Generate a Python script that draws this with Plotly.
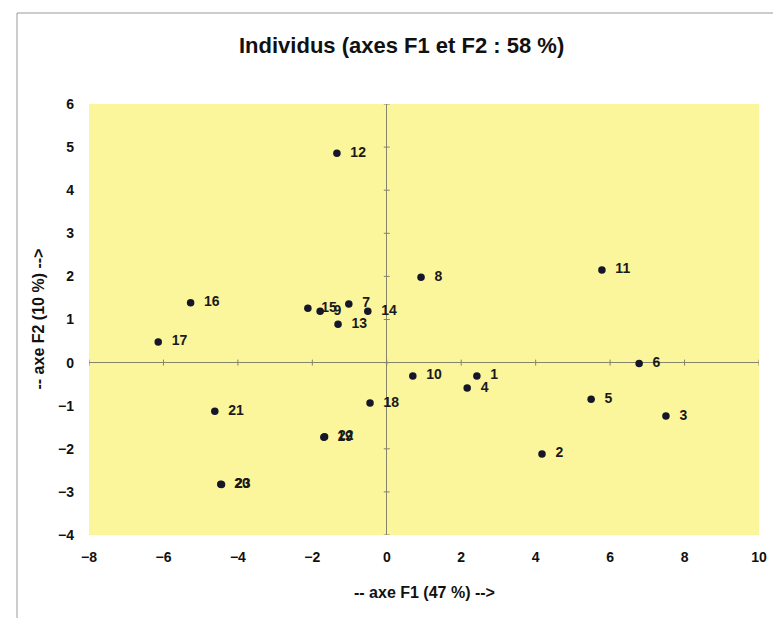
import plotly.graph_objects as go

labels = ["1", "2", "3", "4", "5", "6", "7", "8", "9", "10", "11", "12",
          "13", "14", "15", "16", "17", "18", "19", "20", "21", "22", "23"]
f1 = [2.42, 4.17, 7.50, 2.16, 5.49, 6.78, -1.02, 0.92, -1.79, 0.70, 5.78, -1.34,
      -1.31, -0.51, -2.12, -5.27, -6.14, -0.45, -1.69, -4.46, -4.62, -1.67, -4.44]
f2 = [-0.31, -2.12, -1.24, -0.59, -0.85, -0.02, 1.36, 1.98, 1.19, -0.31, 2.15, 4.86,
      0.89, 1.19, 1.26, 1.39, 0.48, -0.94, -1.73, -2.82, -1.13, -1.72, -2.83]

x_ticks = [-8, -6, -4, -2, 0, 2, 4, 6, 8, 10]
y_ticks = [-4, -3, -2, -1, 0, 1, 2, 3, 4, 5, 6]

title = "Individus (axes F1 et F2 : 58 %)"
x_title = "-- axe F1 (47 %) -->"
y_title = "-- axe F2 (10 %) -->"

PLOT_BG = "#FBF59B"
AXIS_COL = "#85836A"
FONT = "Liberation Sans, Arial, sans-serif"

fig = go.Figure()
fig.add_trace(go.Scatter(
    x=f1, y=f2, mode="markers+text",
    text=["  " + t for t in labels], textposition="middle right",
    textfont=dict(family=FONT, size=14, color="#1a1a1a", weight="bold"),
    marker=dict(size=7.5, color="#15162a"),
    hoverinfo="skip", showlegend=False, cliponaxis=False,
))

shapes = []
for v in y_ticks:
    shapes.append(dict(type="line", xref="x", yref="y", xsizemode="pixel", xanchor=0,
                       x0=-3, x1=3, y0=v, y1=v, line=dict(color=AXIS_COL, width=1), layer="below"))
for v in x_ticks:
    shapes.append(dict(type="line", xref="x", yref="y", ysizemode="pixel", yanchor=0,
                       y0=-3, y1=3, x0=v, x1=v, line=dict(color=AXIS_COL, width=1), layer="below"))
# chart border
shapes.append(dict(type="rect", xref="paper", yref="paper",
                   x0=(17 - 89) / 670, x1=(800 - 89) / 670,
                   y0=-(650 - 535) / 431, y1=1 + (104 - 13) / 431,
                   line=dict(color="#9a9a9a", width=1), fillcolor="rgba(0,0,0,0)", layer="below"))

fig.update_layout(
    width=773, height=618,
    margin=dict(l=89, r=14, t=104, b=83, autoexpand=False),
    paper_bgcolor="white", plot_bgcolor=PLOT_BG,
    font=dict(family=FONT, color="#1a1a1a"),
    shapes=shapes,
    annotations=[
        dict(text="<b>" + title + "</b>", xref="paper", yref="paper",
             x=(401 - 89) / 670, y=1 + (104 - 45) / 431, xanchor="center", yanchor="middle",
             showarrow=False, font=dict(family=FONT, size=22, color="#111")),
        dict(text="<b>" + x_title + "</b>", xref="paper", yref="paper",
             x=0.5, y=0, yshift=-57, xanchor="center", yanchor="middle",
             showarrow=False, font=dict(family=FONT, size=16, color="#111")),
        dict(text="<b>" + y_title + "</b>", xref="paper", yref="paper",
             x=0, y=0.5, xshift=-51, xanchor="center", yanchor="middle", textangle=-90,
             showarrow=False, font=dict(family=FONT, size=16, color="#111")),
    ],
)
fig.update_xaxes(range=[-8, 10], tickvals=x_ticks, showgrid=False, zeroline=True,
                 zerolinecolor=AXIS_COL, zerolinewidth=1, showline=False, ticks="",
                 ticklabelstandoff=12, automargin=False,
                 tickfont=dict(family=FONT, size=14, color="#111", weight="bold"))
fig.update_yaxes(range=[-4, 6], tickvals=y_ticks, showgrid=False, zeroline=True,
                 zerolinecolor=AXIS_COL, zerolinewidth=1, showline=False, ticks="",
                 ticklabelstandoff=14, automargin=False,
                 tickfont=dict(family=FONT, size=14, color="#111", weight="bold"))

fig.write_html("out.html")
